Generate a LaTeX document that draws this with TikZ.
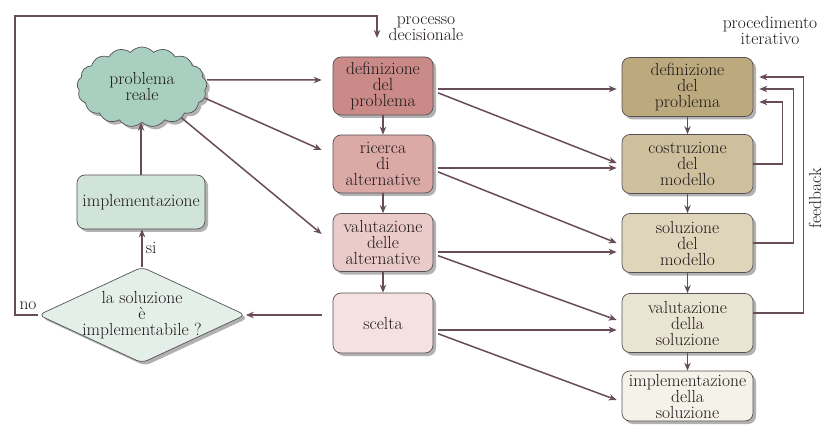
\documentclass[tikz,border=0pt]{standalone}
\usetikzlibrary{shapes.geometric,shapes.symbols,shadows,arrows.meta}

\definecolor{linec}{HTML}{684D59}
\definecolor{edgec}{HTML}{555053}
\definecolor{textc}{HTML}{1E1618}
\definecolor{cloudc}{HTML}{A9CFC0}
\definecolor{implc}{HTML}{D0E4DA}
\definecolor{diamc}{HTML}{E5EFEA}
\definecolor{ma}{HTML}{C98A88}
\definecolor{mb}{HTML}{DBA9A6}
\definecolor{mc}{HTML}{EACBC9}
\definecolor{md}{HTML}{F4E1E0}
\definecolor{ra}{HTML}{BCAA7E}
\definecolor{rb}{HTML}{CEC09D}
\definecolor{rc}{HTML}{DFD5BB}
\definecolor{rd}{HTML}{EAE4D3}
\definecolor{re}{HTML}{F5F2E9}

\newcommand\dfont{\color{textc}\fontsize{17.5pt}{16pt}\selectfont}

\begin{document}
\begin{tikzpicture}[x=1pt,y=-1pt,
  conn/.style={draw=linec, line width=1.5pt, -{Stealth[length=8pt,width=6.5pt]}},
  shade/.style={drop shadow={shadow xshift=3pt, shadow yshift=-3pt, fill=black, opacity=0.3}},
  box/.style={draw=edgec, line width=0.7pt, rounded corners=8pt, align=center,
    inner sep=2pt, font=\dfont, shade},
  midbox/.style={box, minimum width=100pt, minimum height=58pt},
  rightbox/.style={box, minimum width=131pt, minimum height=59pt},
  caption/.style={align=center, font=\dfont, inner sep=0pt}
]
\useasboundingbox (0,0) rectangle (824,430);

% left column
\node[cloud, cloud puffs=17, cloud puff arc=100, cloud ignores aspect,
      minimum width=130pt, minimum height=80pt, inner sep=0pt,
      draw=edgec, line width=0.7pt, fill=cloudc, align=center, font=\dfont, shade]
  (c) at (142,87) {problema\\reale};
\node[box, fill=implc, minimum width=128pt, minimum height=54pt] (im) at (141,202) {implementazione};
\node[diamond, shape aspect=2.15, inner sep=-6pt, minimum width=207pt, minimum height=96pt,
      rounded corners=6pt, draw=edgec, line width=0.7pt, fill=diamc, align=center,
      font=\dfont, shade]
  (dm) at (142,315) {la soluzione\\è\\implementabile ?};

% decision process column
\node[midbox, fill=ma] (m1) at (383,86) {definizione\\del\\problema};
\node[midbox, fill=mb] (m2) at (383,164) {ricerca\\di\\alternative};
\node[midbox, fill=mc] (m3) at (383,242.5) {valutazione\\delle\\alternative};
\node[midbox, fill=md, minimum height=60pt] (m4) at (383,323) {scelta};

% iterative procedure column
\node[rightbox, fill=ra] (r1) at (687.5,87) {definizione\\del\\problema};
\node[rightbox, fill=rb] (r2) at (687.5,164) {costruzione\\del\\modello};
\node[rightbox, fill=rc] (r3) at (687.5,243) {soluzione\\del\\modello};
\node[rightbox, fill=rd] (r4) at (687.5,323) {valutazione\\della\\soluzione};
\node[rightbox, fill=re, minimum height=50pt] (r5) at (687.5,396) {implementazione\\della\\soluzione};

% headings
\node[caption] (hp) at (426,29) {processo\\decisionale};
\node[caption] (hi) at (770,31) {procedimento\\iterativo};
\node[font=\dfont, rotate=90, inner sep=0pt] (fb) at (815,198) {feedback};

% loop back from the decision
\coordinate (corner) at (15,16);
\coordinate (pd) at (377,38);
\draw[conn] (dm.west) -| (corner) -| (pd);
\node[font=\dfont, inner sep=0pt] (no) at (28,306) {no};

% left column connectors
\draw[conn] (im.north) -- (im.north |- c.south);
\draw[conn] (dm.north) -- node[right, font=\dfont, inner sep=3pt] (si) {si} (dm.north |- im.south);
\draw[conn, shorten <=11pt] ([yshift=8pt]m4.west) -- (dm.east);

% cloud to decision process
\draw[conn] ([yshift=7pt]c.east) -- ([xshift=-11pt,yshift=6pt]m1.west);
\draw[conn] (c.-10) -- ([xshift=-11pt,yshift=14pt]m2.west);
\draw[conn] (c.-38) -- ([xshift=-11pt,yshift=8.5pt]m3.west);

% decision process sequence
\draw[conn] (m1.south) -- (m2.north);
\draw[conn] (m2.south) -- (m3.north);
\draw[conn] (m3.south) -- (m4.north);

% decision process to iterative procedure
\draw[conn, shorten <=5pt] ([yshift=-3pt]m1.east) -- ([xshift=-5pt,yshift=-2pt]r1.west);
\draw[conn, shorten <=5pt] ([yshift=-5pt]m1.east) -- ([xshift=-5pt,yshift=1pt]r2.west);
\draw[conn, shorten <=5pt] ([yshift=-4pt]m2.east) -- ([xshift=-5pt,yshift=-4pt]r2.west);
\draw[conn, shorten <=5pt] ([yshift=-6pt]m2.east) -- ([xshift=-5pt,yshift=0pt]r3.west);
\draw[conn, shorten <=5pt] ([yshift=-9.5pt]m3.east) -- ([xshift=-5pt,yshift=-9pt]r3.west);
\draw[conn, shorten <=5pt] ([yshift=-11.5pt]m3.east) -- ([xshift=-5pt,yshift=3pt]r4.west);
\draw[conn, shorten <=5pt] ([yshift=-7pt]m4.east) -- ([xshift=-5pt,yshift=-7pt]r4.west);
\draw[conn, shorten <=5pt] ([yshift=-9pt]m4.east) -- ([xshift=-5pt,yshift=-4pt]r5.west);

% iterative procedure sequence
\draw[conn] (r1.south) -- (r2.north);
\draw[conn] (r2.south) -- (r3.north);
\draw[conn] (r3.south) -- (r4.north);
\draw[conn] (r4.south) -- (r5.north);

% feedback loops
\draw[conn] (r2.east) -- ++(29,0) |- ([xshift=6pt,yshift=-15pt]r1.east);
\draw[conn] (r3.east) -- ++(40,0) |- ([xshift=6pt,yshift=-2pt]r1.east);
\draw[conn] ([yshift=10pt]r4.east) -- ++(50,0) |- ([xshift=6pt,yshift=10pt]r1.east);
\end{tikzpicture}
\end{document}
